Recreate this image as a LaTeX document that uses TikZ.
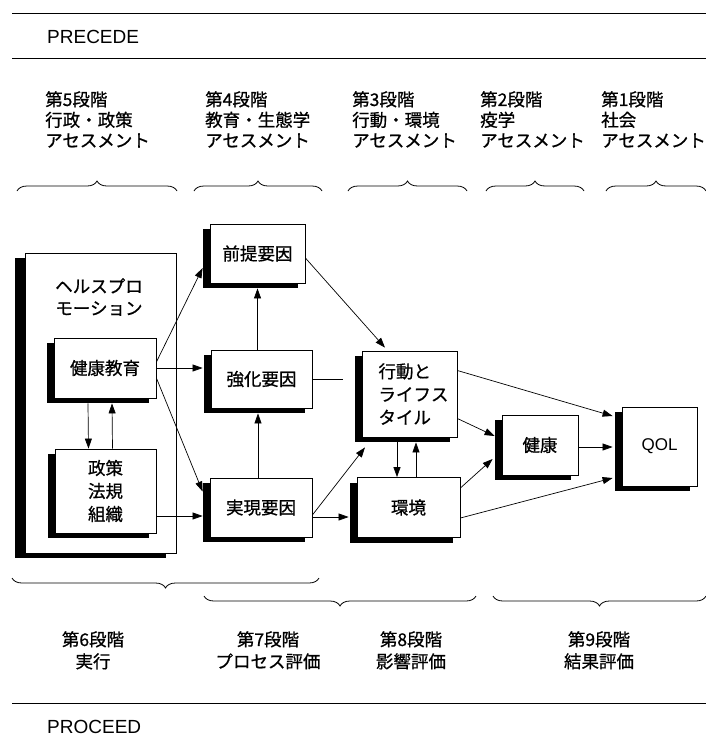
\documentclass[tikz,border=0pt]{standalone}
\usepackage{fontspec}
\setmainfont{Liberation Sans}
\newfontfamily\jp[FakeBold=0.8]{Noto Sans CJK JP}
\usetikzlibrary{arrows.meta,shadows,decorations.pathreplacing,calc}
\begin{document}
\begin{tikzpicture}[x=1pt,y=-1pt,
  jptext/.style={font=\jp\fontsize{17.5}{20.5}\selectfont, inner sep=0pt},
  sbox/.style={draw, line width=0.8pt, fill=white, inner sep=0pt,
    font=\jp\fontsize{17.5}{23}\selectfont,
    drop shadow={shadow xshift=-7pt,shadow yshift=-5pt,opacity=1,fill=black}},
  arr/.style={line width=0.7pt, -{Triangle[length=10pt,width=7pt]}},
  conn/.style={line width=0.7pt},
  rulel/.style={line width=1pt},
  brc/.style={decorate, decoration={brace, amplitude=10pt}, line width=0.8pt},
  latin/.style={font=\fontsize{19}{22}\selectfont, inner sep=0pt}
]
\useasboundingbox (0,0) rectangle (706,740);

% rules and titles
\coordinate (t1l) at (12,13);  \coordinate (t1r) at (706,13);
\coordinate (t2l) at (12,58);  \coordinate (t2r) at (706,58);
\coordinate (t3l) at (12,703); \coordinate (t3r) at (706,703);
\draw[rulel] (t1l) -- (t1r);
\draw[rulel] (t2l) -- (t2r);
\draw[rulel] (t3l) -- (t3r);
\node[latin, anchor=west] (precede) at (47,37) {PRECEDE};
\node[latin, anchor=west] (proceed) at (47,727) {PROCEED};

% stage headers
\node[jptext, align=left, anchor=north west] (h5) at (45,91) {第5段階\\行政・政策\\アセスメント};
\node[jptext, align=left, anchor=north west] (h4) at (205,91) {第4段階\\教育・生態学\\アセスメント};
\node[jptext, align=left, anchor=north west] (h3) at (352,91) {第3段階\\行動・環境\\アセスメント};
\node[jptext, align=left, anchor=north west] (h2) at (480,91) {第2段階\\疫学\\アセスメント};
\node[jptext, align=left, anchor=north west] (h1) at (601,91) {第1段階\\社会\\アセスメント};

% top braces
\draw[brc] (17,191) -- (177,191);
\draw[brc] (194,191) -- (322,191);
\draw[brc] (348,191) -- (467,191);
\draw[brc] (486,191) -- (584,191);
\draw[brc] (606,191) -- (706,191);

% health promotion box
\node[draw, line width=0.8pt, fill=white, minimum width=151pt, minimum height=300pt,
  drop shadow={shadow xshift=-10pt,shadow yshift=-5pt,opacity=1,fill=black}] (hp) at (100.5,403) {};
\node[jptext, align=center, font=\jp\fontsize{17.5}{22}\selectfont] (hptitle) at (99,297) {ヘルスプロ\\モーション};

\node[sbox, minimum width=102pt, minimum height=60pt] (edu) at (105,368) {健康教育};
\node[sbox, minimum width=101pt, minimum height=84pt, align=center] (pol) at (105.5,491) {政策\\法規\\組織};

\node[sbox, minimum width=95pt, minimum height=59pt] (pre) at (257.5,253.5) {前提要因};
\node[sbox, minimum width=101pt, minimum height=58pt] (rei) at (261.5,379) {強化要因};
\node[sbox, minimum width=102pt, minimum height=59pt] (ena) at (261,507.5) {実現要因};

\node[sbox, minimum width=95pt, minimum height=86pt, align=left] (beh) at (409.5,394) {\hspace*{8pt}行動と\\\hspace*{8pt}ライフス\\\hspace*{8pt}タイル};
\node[sbox, minimum width=103pt, minimum height=60pt] (env) at (408.5,507.5) {環境};
\node[sbox, minimum width=76pt, minimum height=60pt] (hea) at (540,445) {健康};
\node[sbox, minimum width=75pt, minimum height=79pt, font=\fontsize{17}{20}\selectfont] (qol) at (659.5,446.5) {QOL};

% connectors
\draw[arr] ([yshift=6pt]edu.east) -- ([xshift=-7pt,yshift=-14.5pt]pre.west);
\draw[arr] (edu.east) -- ([xshift=-8pt,yshift=11pt]rei.west);
\draw[arr] ([yshift=-10pt]edu.east) -- ([xshift=-7pt,yshift=16pt]ena.west);
\draw[arr] ([xshift=-17pt,yshift=-5pt]edu.south) -- ([xshift=-17pt]pol.north);
\draw[arr] ([xshift=7pt]pol.north) -- ([xshift=7pt,yshift=-5pt]edu.south);
\draw[arr] ([yshift=-25pt]pol.east) -- ([xshift=-7pt,yshift=-8.5pt]ena.west);

\draw[arr] ([xshift=-4pt]rei.north) -- ([yshift=-5pt]pre.south);
\draw[arr] ([xshift=-3pt]ena.north) -- ([xshift=-3.5pt,yshift=-5pt]rei.south);
\draw[conn] (rei.east) -- ($(rei.east -| beh.west)+(-19,0)$);

\draw[arr] ([yshift=-4.5pt]pre.east) -- ([xshift=-24.5pt,yshift=3pt]beh.north);
\draw[arr] ([yshift=-7.5pt]ena.east) -- ([xshift=-44.5pt,yshift=-10pt]beh.south);
\draw[arr] ([yshift=-9.5pt]ena.east) -- ([xshift=-8pt,yshift=-9.5pt]env.west);

\draw[arr] ([xshift=-12.5pt,yshift=-5pt]beh.south) -- ([xshift=-11.5pt]env.north);
\draw[arr] ([xshift=7.5pt]env.north) -- ([xshift=6.5pt,yshift=-5pt]beh.south);

\draw[arr] ([yshift=-24.5pt]beh.east) -- ([xshift=-7pt,yshift=9pt]hea.west);
\draw[arr] ([yshift=23.5pt]beh.east) -- ([xshift=-9pt,yshift=30.5pt]qol.west);
\draw[arr] ([yshift=-2pt]hea.east) -- ([xshift=-9pt,yshift=-0.5pt]qol.west);
\draw[arr] ([yshift=19.5pt]env.east) -- ([xshift=-9pt,yshift=-14pt]hea.west);
\draw[arr] ([yshift=-10.5pt]env.east) -- ([xshift=-9pt,yshift=-31.5pt]qol.west);

% bottom braces
\draw[brc] (319,578) -- (12,578);
\draw[brc] (476,596) -- (204,596);
\draw[brc] (706,596) -- (493,596);

% bottom stage labels
\node[jptext, align=center, anchor=north, font=\jp\fontsize{17.5}{22}\selectfont] (b6) at (93,631) {第6段階\\実行};
\node[jptext, align=center, anchor=north, font=\jp\fontsize{17.5}{22}\selectfont] (b7) at (268,631) {第7段階\\プロセス評価};
\node[jptext, align=center, anchor=north, font=\jp\fontsize{17.5}{22}\selectfont] (b8) at (411,631) {第8段階\\影響評価};
\node[jptext, align=center, anchor=north, font=\jp\fontsize{17.5}{22}\selectfont] (b9) at (599,631) {第9段階\\結果評価};
\end{tikzpicture}
\end{document}
